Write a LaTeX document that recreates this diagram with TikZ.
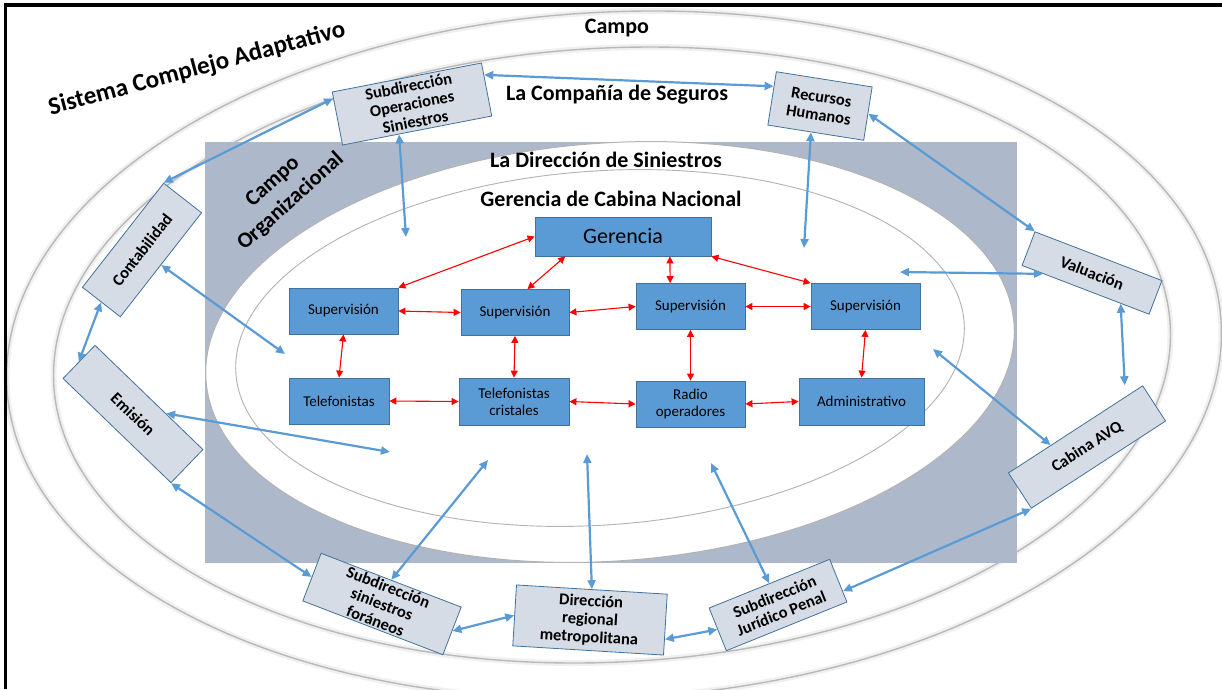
\documentclass[tikz,border=0pt]{standalone}
\usepackage{fontspec}
\setmainfont{Carlito}
\usetikzlibrary{arrows.meta,calc}
\definecolor{cajaazul}{RGB}{91,155,213}
\definecolor{bordeazul}{RGB}{65,113,156}
\definecolor{cajagris}{RGB}{214,220,229}
\definecolor{campogris}{RGB}{173,185,202}
\definecolor{flechaazul}{RGB}{91,155,213}
\tikzset{
  interno/.style={draw=bordeazul, fill=cajaazul, line width=0.8pt, minimum width=#1pt,
    minimum height=46pt, inner sep=1pt, align=center, font=\fontsize{15}{17}\selectfont},
  externo/.style={draw=bordeazul, fill=cajagris, line width=0.8pt, inner sep=1pt,
    align=center, font=\bfseries\fontsize{16.5}{18}\selectfont},
  flecha/.style={flechaazul, line width=2.2pt,
    {Triangle[length=9pt,width=8pt]}-{Triangle[length=9pt,width=8pt]}},
  roja/.style={red, line width=1.1pt,
    {Triangle[length=7pt,width=7pt]}-{Triangle[length=7pt,width=7pt]}},
  anillo/.style={gray!55, line width=1.4pt},
  halo/.style={gray!12, line width=6pt},
  titulo/.style={font=\bfseries\fontsize{22}{27}\selectfont, align=center}
}
\begin{document}
\begin{tikzpicture}[x=1pt,y=-1pt]
\useasboundingbox (0,0) rectangle (1222,689);
\clip (0,0) rectangle (1222,689);
\fill[white] (0,0) rectangle (1222,689);

% anillos
\draw[halo, rotate around={3:(614,355)}] (614,355) ellipse [x radius=608, y radius=343];
\draw[anillo, rotate around={3:(614,355)}] (614,355) ellipse [x radius=608, y radius=343];
\draw[halo, rotate around={3:(612,355)}] (612,355) ellipse [x radius=559, y radius=307];
\draw[anillo, rotate around={3:(612,355)}] (612,355) ellipse [x radius=559, y radius=307];
\fill[campogris] (205,142) rectangle (1017,563);
\draw[gray!60, line width=1pt, fill=white, rotate around={4:(610,352)}] (610,352) ellipse [x radius=405, y radius=209];
\draw[gray!60, line width=0.9pt, rotate around={4:(600,348)}] (600,348) ellipse [x radius=365, y radius=177];

% titulos
\node[titulo] (campo) at (617,28) {Campo};
\node[titulo, font=\bfseries\fontsize{25}{30}\selectfont, rotate=15] (sistema) at (197,69) {Sistema Complejo Adaptativo};
\node[titulo] (compania) at (617,95) {La Compañía de Seguros};
\node[titulo] (direccion) at (606,160) {La Dirección de Siniestros};
\node[titulo] (cabnac) at (611,199) {Gerencia de Cabina Nacional};
\node[titulo, rotate=42] (campoorg) at (282,192) {Campo\\Organizacional};

% cabina nacional
\node[interno=176, minimum height=39pt, font=\fontsize{22}{24}\selectfont] (gerencia) at (623,236.5) {Gerencia};
\node[interno=109] (sup1) at (343.5,311) {Supervisión};
\node[interno=108] (sup2) at (515,312.5) {Supervisión};
\node[interno=109] (sup3) at (690.5,306.5) {Supervisión};
\node[interno=109] (sup4) at (865.5,306.5) {Supervisión};
\node[interno=100] (tel) at (339,401) {Telefonistas};
\node[interno=110, minimum height=47pt] (telcri) at (514,401.5) {Telefonistas\\cristales};
\node[interno=109] (radio) at (690.5,404) {Radio\\operadores};
\node[interno=125, minimum height=47pt] (admin) at (861.5,401.5) {Administrativo};

% areas externas
\node[externo, minimum width=152pt, minimum height=54pt, rotate=11] (subop) at (412,104) {Subdirección\\Operaciones\\Siniestros};
\node[externo, minimum width=97pt, minimum height=54pt, rotate=-9] (recursos) at (820,106) {Recursos\\Humanos};
\node[externo, minimum width=132pt, minimum height=48pt, rotate=52] (contab) at (142,250) {Contabilidad};
\node[externo, minimum width=150pt, minimum height=46pt, rotate=-44] (emision) at (133,414) {Emisión};
\node[externo, minimum width=136pt, minimum height=36pt, rotate=-21] (valuacion) at (1092,273) {Valuación};
\node[externo, minimum width=160pt, minimum height=42pt, rotate=33] (cabina) at (1087,447) {Cabina AVQ};
\node[externo, minimum width=130pt, minimum height=46pt, rotate=22] (juridico) at (778,605) {Subdirección\\Jurídico Penal};
\node[externo, minimum width=151pt, minimum height=61pt, rotate=-3.5] (dirreg) at (590,620) {Dirección\\regional\\metropolitana};
\node[externo, minimum width=150pt, minimum height=51pt, rotate=-21] (foraneos) at (382,604) {Subdirección\\siniestros\\foráneos};

\coordinate (f1) at (406,237);
\coordinate (f2) at (804,248);
\coordinate (f3) at (900,272);
\coordinate (f4) at (933,349);
\coordinate (f5) at (711,463);
\coordinate (f6) at (587,454);
\coordinate (f7) at (488,460);
\coordinate (f8) at (390,452);
\coordinate (f9) at (285,354);

% flechas rojas
\draw[roja] (gerencia.west) -- (sup1.north east);
\draw[roja] (gerencia.-161) -- (sup2.62);
\draw[roja] (gerencia.-23) -- (sup3.131);
\draw[roja] (gerencia.south east) -- (sup4.north west);
\draw[roja] (sup1.east) -- (sup2.west);
\draw[roja] (sup2.east) -- (sup3.west);
\draw[roja] (sup3.east) -- (sup4.west);
\draw[roja] (sup1.south) -- (tel.north);
\draw[roja] (sup2.south) -- (telcri.north);
\draw[roja] (sup3.south) -- (radio.north);
\draw[roja] (sup4.south) -- (admin.north);
\draw[roja] (tel.east) -- (telcri.west);
\draw[roja] (telcri.east) -- (radio.west);
\draw[roja] (radio.east) -- (admin.west);

% flechas azules
\draw[flecha] (subop.11) -- (recursos.166);
\draw[flecha] (subop.165) -- (contab.north east);
\draw[flecha] (subop.-124) -- (f1);
\draw[flecha] (recursos.-100) -- (f2);
\draw[flecha] (recursos.east) -- (valuacion.north west);
\draw[flecha] (valuacion.-158) -- (f3);
\draw[flecha] (valuacion.-26) -- ($(cabina.north east)+(-18,0)$);
\draw[flecha] (cabina.144) -- (f4);
\draw[flecha] (cabina.south west) -- (juridico.-10);
\draw[flecha] (juridico.north) -- (f5);
\draw[flecha] (dirreg.north) -- (f6);
\draw[flecha] (dirreg.-11) -- (juridico.west);
\draw[flecha] (foraneos.east) -- (dirreg.west);
\draw[flecha] (foraneos.north) -- (f7);
\draw[flecha] (emision.south east) -- (foraneos.west);
\draw[flecha] (emision.45) -- (f8);
\draw[flecha] (contab.south) -- (f9);
\draw[flecha] (contab.west) -- (emision.west);

% marco
\draw[line width=3.5pt] (5.5,689) -- (5.5,5) -- (1222,5);
\end{tikzpicture}
\end{document}
